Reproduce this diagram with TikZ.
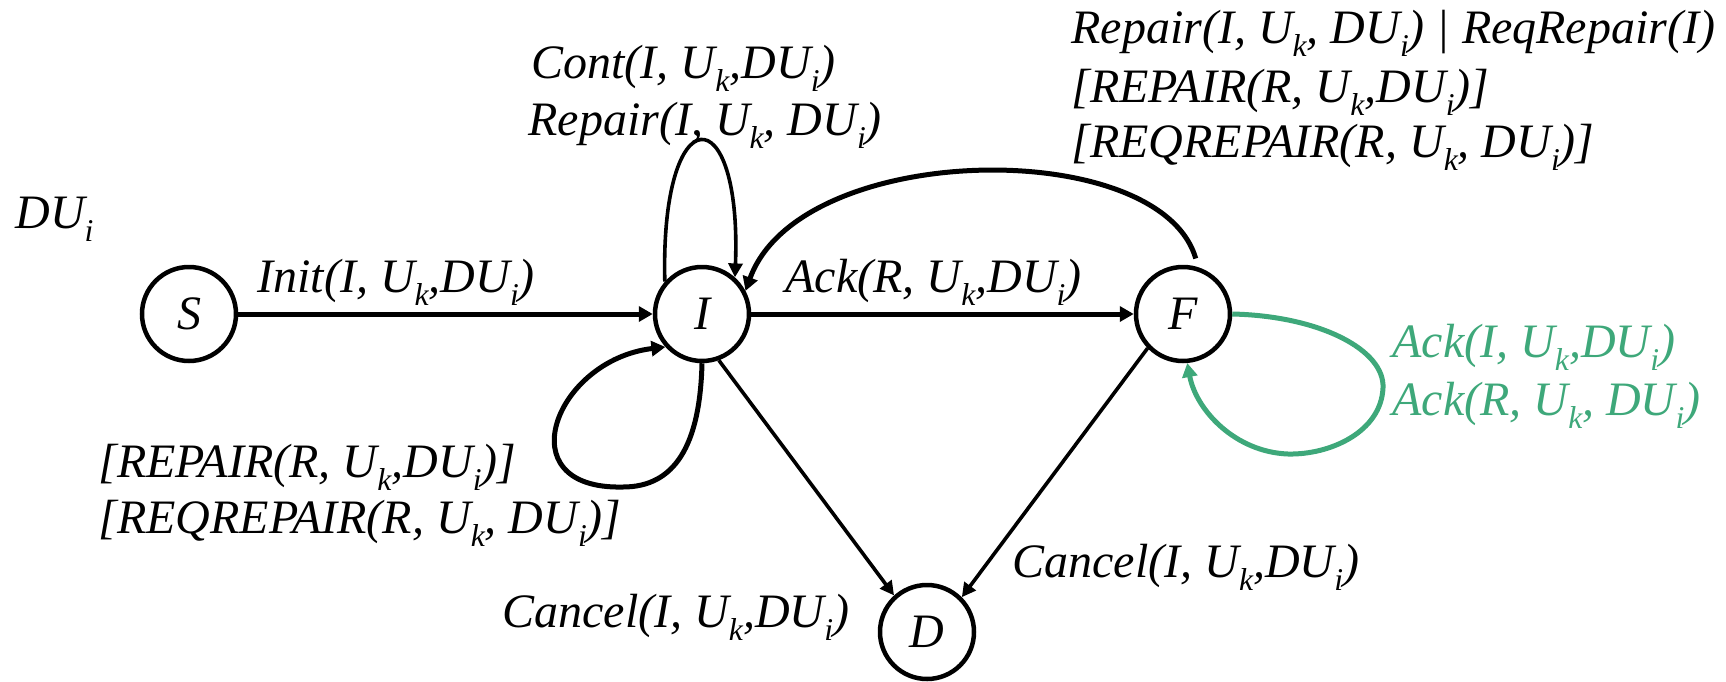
\documentclass[tikz,border=0pt]{standalone}
\usepackage{fontspec}
\usepackage{graphicx}
\setmainfont{Liberation Serif}
\usetikzlibrary{arrows.meta}
\definecolor{ackgreen}{RGB}{62,168,122}
% lowered, reduced index as used in the message labels
\newcommand{\lo}[1]{\smash{\raisebox{-0.28em}{\scalebox{0.66}{#1}}}}

\begin{document}
\begin{tikzpicture}[x=0.5pt,y=-0.5pt,
  state/.style={circle,draw,line width=2.25pt,minimum size=47pt,inner sep=0pt,
    font=\fontsize{24}{28}\selectfont\itshape},
  lbl/.style={anchor=base west,inner sep=0pt,font=\fontsize{24}{28}\selectfont\itshape},
  edge/.style={line width=2.5pt,-{Triangle[length=7pt,width=7.5pt]}},
  thinedge/.style={line width=1.8pt,-{Triangle[length=7pt,width=7pt]}},
  ]
\useasboundingbox (0,0) rectangle (1726,681);

% states
\node[state] (S) at (189,314) {S};
\node[state] (I) at (702,314) {I};
\node[state] (F) at (1183,314) {F};
\node[state] (D) at (927,632) {D};

% transitions
\draw[edge] (S) -- (I);
\draw[edge] (I) -- (F);
\draw[thinedge] (I.290) -- (D.132);
\draw[thinedge] (F.224) -- (D.45);
\draw[edge,shorten <=4.5pt] (F.72) .. controls (1160,135) and (800,140) .. (I.28);
\draw[thinedge] (I.139) .. controls (660,95) and (742,95) .. (I.48);
\draw[edge] (I.270) .. controls (700,445) and (675,487) .. (623,487)
  .. controls (505,490) and (555,360) .. (I.222);
\draw[edge,ackgreen] (F.east) .. controls (1320,316) and (1385,350) .. (1383,388)
  .. controls (1381,432) and (1330,455) .. (1288,454)
  .. controls (1235,452) and (1196,410) .. (F.275);

% labels
\node[lbl] (du) at (15,228) {DU\lo{i}};
\node[lbl] (init) at (257,292) {Init(I, U\lo{k},DU\lo{i})};
\node[lbl] (cont) at (531,78) {Cont(I, U\lo{k},DU\lo{i})};
\node[lbl] (rep) at (528,135) {Repair(I, U\lo{k}, DU\lo{i})};
\node[lbl] (ackr) at (785,292) {Ack(R, U\lo{k},DU\lo{i})};
\node[lbl] (tr1) at (1071,43) {Repair(I, U\lo{k}, DU\lo{i}) | ReqRepair(I)};
\node[lbl] (tr2) at (1071,102) {[REPAIR(R, U\lo{k},DU\lo{i})]};
\node[lbl] (tr3) at (1071,157) {[REQREPAIR(R, U\lo{k}, DU\lo{i})]};
\node[lbl] (bl1) at (98,477) {[REPAIR(R, U\lo{k},DU\lo{i})]};
\node[lbl] (bl2) at (98,533) {[REQREPAIR(R, U\lo{k}, DU\lo{i})]};
\node[lbl] (can1) at (502,627) {Cancel(I, U\lo{k},DU\lo{i})};
\node[lbl] (can2) at (1012,577) {Cancel(I, U\lo{k},DU\lo{i})};
\node[lbl,ackgreen] (acki) at (1392,357) {Ack(I, U\lo{k},DU\lo{i})};
\node[lbl,ackgreen] (ackr2) at (1392,415) {Ack(R, U\lo{k}, DU\lo{i})};
\end{tikzpicture}
\end{document}
